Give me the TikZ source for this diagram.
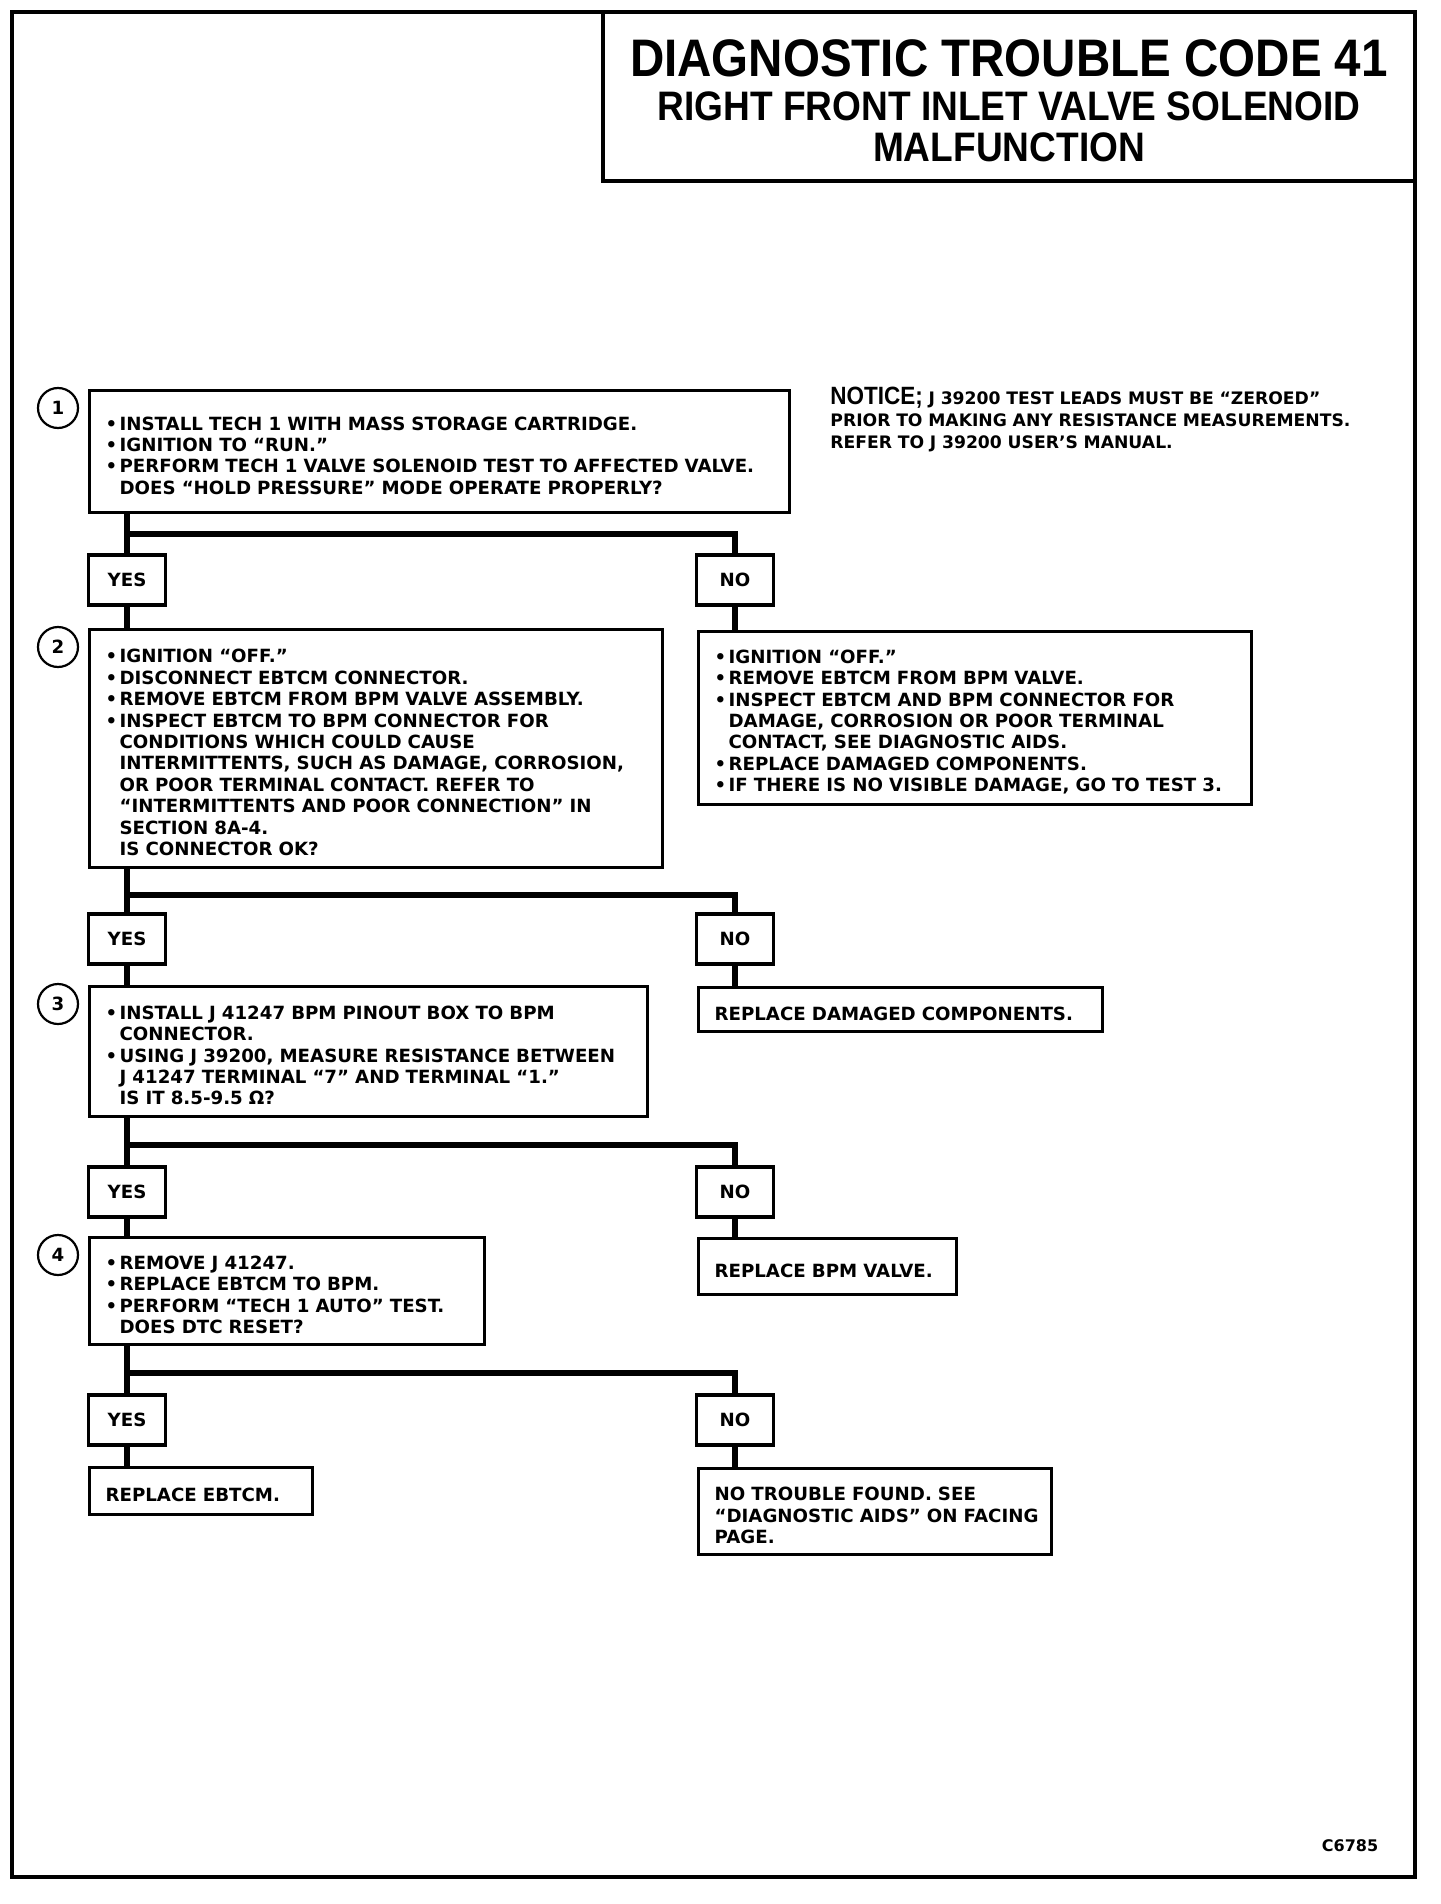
\documentclass[tikz,border=0pt]{standalone}
\usepackage{fontspec}
\setmainfont{DejaVu Sans}
\newfontfamily\headfont[FakeStretch=0.9]{Liberation Sans}
\usetikzlibrary{positioning}

\newcommand\bodyfont{\fontsize{9.1}{10.7}\selectfont\bfseries}
\newcommand\notefont{\fontsize{8.6}{11}\selectfont\bfseries}
\newcommand\bitem[1]{\par\noindent\makebox[7pt][l]{•}\mbox{#1}}
\newcommand\bcont[1]{\par\noindent\hspace*{7pt}\mbox{#1}}
\newcommand\bline[1]{\par\noindent\mbox{#1}}

\begin{document}
\begin{tikzpicture}[
  x=0.5pt,y=-0.5pt,
  stepbox/.style={draw,line width=1.6pt,anchor=north west,inner xsep=8pt,inner ysep=0pt,align=left,font=\bodyfont},
  ans/.style={draw,line width=1.6pt,minimum width=38.5pt,minimum height=25pt,inner sep=0pt,font=\bodyfont},
  num/.style={circle,draw,line width=1.1pt,minimum size=20pt,inner sep=0pt,font=\bodyfont},
  wire/.style={line width=3pt}
]
\useasboundingbox (0,0) rectangle (1440,1904);
\draw[line width=2pt] (12,12) rectangle (1415,1877);
\draw[line width=1.6pt] (603,12) rectangle (1415,181);

% title
\node[font=\headfont\bfseries\fontsize{26.4}{28}\selectfont] (t1) at (1009,58) {DIAGNOSTIC TROUBLE CODE 41};
\node[font=\headfont\bfseries\fontsize{20.6}{22}\selectfont] (t2) at (1009,106) {RIGHT FRONT INLET VALVE SOLENOID};
\node[font=\headfont\bfseries\fontsize{20.6}{22}\selectfont] (t3) at (1009,147) {MALFUNCTION};

\node[anchor=west,inner sep=0pt,text width=300pt,align=left,font=\notefont] (note) at (830,417)
  {\bline{{\headfont\bfseries\fontsize{12.5}{11}\selectfont NOTICE;} J 39200 TEST LEADS MUST BE “ZEROED”}
   \bline{PRIOR TO MAKING ANY RESISTANCE MEASUREMENTS.}
   \bline{REFER TO J 39200 USER’S MANUAL.}};

% test 1
\node[num] (n1) at (58,408) {1};
\node[stepbox,text width=334pt,minimum height=61pt] (box1) at (88,389)
  {\bitem{INSTALL TECH 1 WITH MASS STORAGE CARTRIDGE.}
   \bitem{IGNITION TO “RUN.”}
   \bitem{PERFORM TECH 1 VALVE SOLENOID TEST TO AFFECTED VALVE.}
   \bcont{DOES “HOLD PRESSURE” MODE OPERATE PROPERLY?}};
\node[ans] (yes1) at (127,580) {YES};
\node[ans] (no1) at (735,580) {NO};
\coordinate (j1) at (127,534);

% test 2
\node[num] (n2) at (58,647) {2};
\node[stepbox,text width=270.5pt,minimum height=119pt] (box2) at (88,628)
  {\bitem{IGNITION “OFF.”}
   \bitem{DISCONNECT EBTCM CONNECTOR.}
   \bitem{REMOVE EBTCM FROM BPM VALVE ASSEMBLY.}
   \bitem{INSPECT EBTCM TO BPM CONNECTOR FOR}
   \bcont{CONDITIONS WHICH COULD CAUSE}
   \bcont{INTERMITTENTS, SUCH AS DAMAGE, CORROSION,}
   \bcont{OR POOR TERMINAL CONTACT. REFER TO}
   \bcont{“INTERMITTENTS AND POOR CONNECTION” IN}
   \bcont{SECTION 8A-4.}
   \bcont{IS CONNECTOR OK?}};
\node[stepbox,text width=260.5pt,minimum height=86.5pt] (fix2) at (697,630)
  {\bitem{IGNITION “OFF.”}
   \bitem{REMOVE EBTCM FROM BPM VALVE.}
   \bitem{INSPECT EBTCM AND BPM CONNECTOR FOR}
   \bcont{DAMAGE, CORROSION OR POOR TERMINAL}
   \bcont{CONTACT, SEE DIAGNOSTIC AIDS.}
   \bitem{REPLACE DAMAGED COMPONENTS.}
   \bitem{IF THERE IS NO VISIBLE DAMAGE, GO TO TEST 3.}};
\node[ans] (yes2) at (127,939) {YES};
\node[ans] (no2) at (735,939) {NO};
\coordinate (j2) at (127,895);

% test 3
\node[num] (n3) at (58,1004) {3};
\node[stepbox,text width=263pt,minimum height=65pt] (box3) at (88,985)
  {\bitem{INSTALL J 41247 BPM PINOUT BOX TO BPM}
   \bcont{CONNECTOR.}
   \bitem{USING J 39200, MEASURE RESISTANCE BETWEEN}
   \bcont{J 41247 TERMINAL “7” AND TERMINAL “1.”}
   \bcont{IS IT 8.5-9.5 Ω?}};
\node[stepbox,text width=186pt,minimum height=22pt] (fix3) at (697,986)
  {\bline{REPLACE DAMAGED COMPONENTS.}};
\node[ans] (yes3) at (127,1192) {YES};
\node[ans] (no3) at (735,1192) {NO};
\coordinate (j3) at (127,1145);

% test 4
\node[num] (n4) at (58,1255) {4};
\node[stepbox,text width=181.5pt,minimum height=53.5pt] (box4) at (88,1236)
  {\bitem{REMOVE J 41247.}
   \bitem{REPLACE EBTCM TO BPM.}
   \bitem{PERFORM “TECH 1 AUTO” TEST.}
   \bcont{DOES DTC RESET?}};
\node[stepbox,text width=113pt,minimum height=28pt] (fix4) at (697,1237)
  {\bline{REPLACE BPM VALVE.}};
\node[ans] (yes4) at (127,1420) {YES};
\node[ans] (no4) at (735,1420) {NO};
\coordinate (j4) at (127,1373);
\node[stepbox,text width=95.5pt,minimum height=23.5pt] (endyes) at (88,1466)
  {\bline{REPLACE EBTCM.}};
\node[stepbox,text width=160.5pt,minimum height=43pt] (endno) at (697,1467)
  {\bline{NO TROUBLE FOUND. SEE}
   \bline{“DIAGNOSTIC AIDS” ON FACING}
   \bline{PAGE.}};

% connectors
\draw[wire] (box1.south -| yes1.north) -- (yes1.north);
\draw[wire] (j1) -| (no1.north);
\draw[wire] (yes1.south) -- (yes1.south |- box2.north);
\draw[wire] (no1.south) -- (no1.south |- fix2.north);
\draw[wire] (box2.south -| yes2.north) -- (yes2.north);
\draw[wire] (j2) -| (no2.north);
\draw[wire] (yes2.south) -- (yes2.south |- box3.north);
\draw[wire] (no2.south) -- (no2.south |- fix3.north);
\draw[wire] (box3.south -| yes3.north) -- (yes3.north);
\draw[wire] (j3) -| (no3.north);
\draw[wire] (yes3.south) -- (yes3.south |- box4.north);
\draw[wire] (no3.south) -- (no3.south |- fix4.north);
\draw[wire] (box4.south -| yes4.north) -- (yes4.north);
\draw[wire] (j4) -| (no4.north);
\draw[wire] (yes4.south) -- (yes4.south |- endyes.north);
\draw[wire] (no4.south) -- (no4.south |- endno.north);

\node[font=\fontsize{8}{9}\selectfont\bfseries] (code) at (1350,1846) {C6785};
\end{tikzpicture}
\end{document}
